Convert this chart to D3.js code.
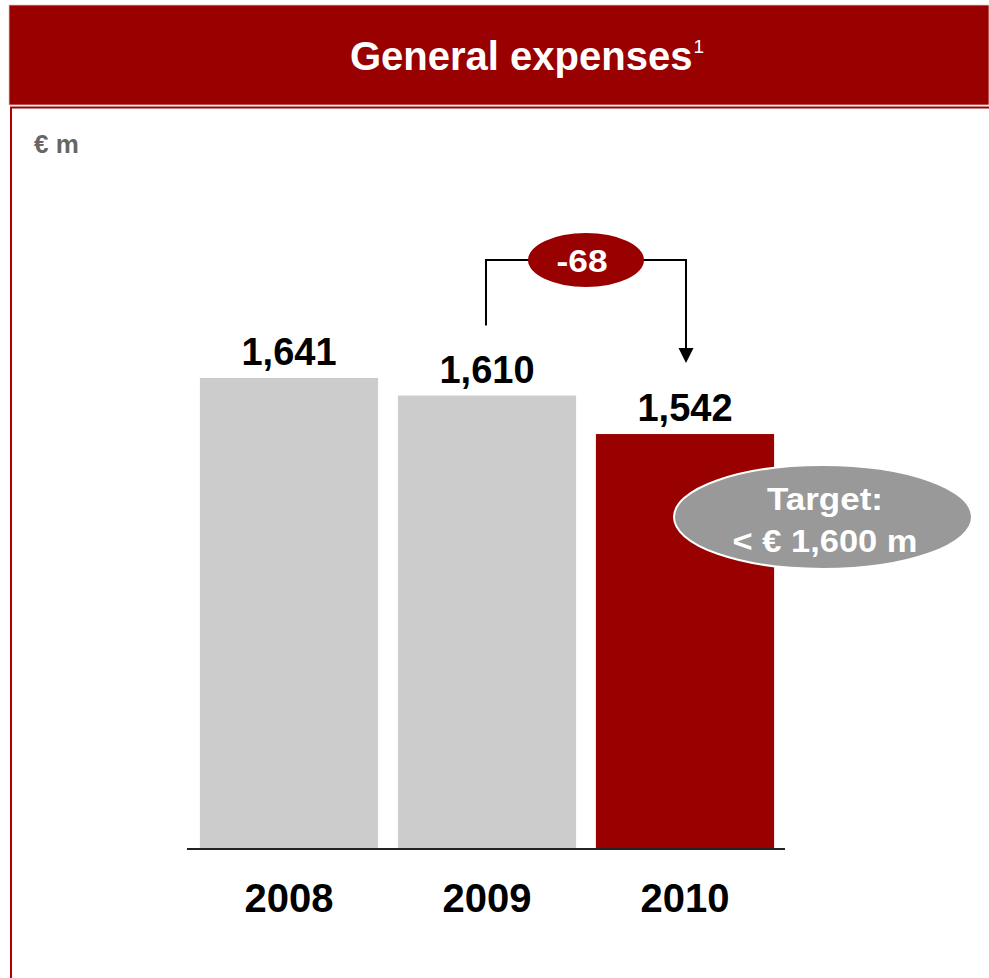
<!DOCTYPE html>
<html>
<head>
<meta charset="utf-8">
<script src="https://cdn.jsdelivr.net/npm/d3@7"></script>
<style>
  html, body { margin: 0; padding: 0; background: #fff; }
  svg { display: block; font-family: "Liberation Sans", Arial, Helvetica, sans-serif; }
</style>
</head>
<body>
<svg id="chart" width="989" height="978"></svg>
<script>
// General expenses, € m
const years = ["2008", "2009", "2010"];
const expenses = [1641, 1610, 1542];
const barColors = ["#cccccc", "#cccccc", "#990000"];
const valueLabels = ["1,641", "1,610", "1,542"];
const changeLabel = "-68";
const targetLines = ["Target:", "< \u20AC 1,600 m"];

const svg = d3.select("#chart");
const red = "#990000";

// header band
svg.append("rect").attr("x", 9).attr("y", 5).attr("width", 980).attr("height", 100)
  .attr("fill", red).attr("stroke", "#e8c8c8").attr("stroke-width", 0.8);
const title = svg.append("text").attr("x", 350).attr("y", 70)
  .attr("fill", "#fff").attr("font-size", 40).attr("font-weight", "bold");
title.append("tspan").text("General expenses");
title.append("tspan").attr("font-size", 19).attr("dy", -17).attr("dx", 1).attr("font-weight", "normal").text("1");

// body frame
svg.append("line").attr("x1", 10).attr("x2", 989).attr("y1", 107.5).attr("y2", 107.5)
  .attr("stroke", red).attr("stroke-width", 2);
svg.append("line").attr("x1", 11).attr("x2", 11).attr("y1", 107).attr("y2", 978)
  .attr("stroke", "#b00000").attr("stroke-width", 2);

// unit label
svg.append("text").attr("x", 34).attr("y", 153).attr("fill", "#666")
  .attr("font-size", 26).attr("font-weight", "bold").text("\u20AC m");

// scales
const x = d3.scaleBand().domain(years).range([190, 784]).paddingInner(0.1).paddingOuter(0.05);
const y = d3.scaleLinear().domain([809, 1641]).range([849, 378]);

// bars
svg.append("g").selectAll("rect").data(years).join("rect")
  .attr("x", d => x(d))
  .attr("width", x.bandwidth())
  .attr("y", (d, i) => y(expenses[i]))
  .attr("height", (d, i) => y.range()[0] - y(expenses[i]))
  .attr("fill", (d, i) => barColors[i]);

// value labels
svg.append("g").selectAll("text").data(years).join("text")
  .attr("x", d => x(d) + x.bandwidth() / 2)
  .attr("y", (d, i) => y(expenses[i]) - 13)
  .attr("text-anchor", "middle").attr("font-size", 38).attr("font-weight", "bold")
  .attr("fill", "#000")
  .text((d, i) => valueLabels[i]);

// x axis
const xAxis = svg.append("g").attr("transform", `translate(0,${y.range()[0]})`)
  .call(d3.axisBottom(x).tickSize(0).tickPadding(0));
xAxis.select(".domain").attr("d", "M187,0H785").attr("stroke", "#222").attr("stroke-width", 2);
xAxis.selectAll(".tick text")
  .attr("y", 63).attr("dy", 0)
  .attr("font-size", 40).attr("font-weight", "bold").attr("fill", "#000")
  .attr("font-family", "'Liberation Sans', Arial, sans-serif")
  .attr("textLength", 89).attr("lengthAdjust", "spacingAndGlyphs");

// change bracket from 2009 to 2010
const cx1 = x("2009") + x.bandwidth() / 2 - 1;
const cx2 = x("2010") + x.bandwidth() / 2 + 1;
const bracketY = 260;
svg.append("path")
  .attr("d", `M${cx1},${y(expenses[1]) - 70}V${bracketY}H${cx2}V${y(expenses[2]) - 84}`)
  .attr("fill", "none").attr("stroke", "#000").attr("stroke-width", 2);
const tipY = y(expenses[2]) - 71;
svg.append("path")
  .attr("d", `M${cx2 - 7.5},${tipY - 15}L${cx2 + 7.5},${tipY - 15}L${cx2},${tipY}Z`)
  .attr("fill", "#000");
svg.append("ellipse").attr("cx", 586).attr("cy", bracketY).attr("rx", 58).attr("ry", 27)
  .attr("fill", red);
svg.append("text").attr("x", 582).attr("y", bracketY + 12).attr("text-anchor", "middle")
  .attr("fill", "#fff").attr("font-size", 32).attr("font-weight", "bold")
  .attr("textLength", 51).attr("lengthAdjust", "spacingAndGlyphs").text(changeLabel);

// target bubble
const targetWidths = [116, 185];
svg.append("ellipse").attr("cx", 823).attr("cy", 517).attr("rx", 149).attr("ry", 52)
  .attr("fill", "#999999").attr("stroke", "#fff").attr("stroke-width", 2);
svg.append("g").selectAll("text").data(targetLines).join("text")
  .attr("x", 825).attr("y", (d, i) => 510 + i * 42)
  .attr("text-anchor", "middle").attr("fill", "#fff")
  .attr("font-size", 32).attr("font-weight", "bold")
  .attr("textLength", (d, i) => targetWidths[i]).attr("lengthAdjust", "spacingAndGlyphs")
  .text(d => d);
</script>
</body>
</html>
